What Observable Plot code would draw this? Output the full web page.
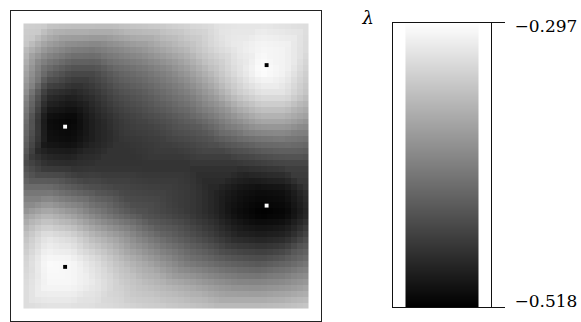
<!DOCTYPE html>
<html>
<head>
<meta charset="utf-8">
<script src="https://cdn.jsdelivr.net/npm/d3@7"></script>
<script src="https://cdn.jsdelivr.net/npm/@observablehq/plot@0.6"></script>
<style>
  body { margin: 0; background: white; }
  #wrap { position: relative; width: 581px; height: 322px; overflow: hidden; }
  #wrap > svg { position: absolute; top: 0; }
</style>
</head>
<body>
<div id="wrap"></div>
<script>
// grid sample positions (fraction of the domain, left→right / top→bottom)
const gridPos = [0, 0.083, 0.167, 0.25, 0.333, 0.417, 0.5, 0.583, 0.667, 0.75, 0.833, 0.917, 1];

// λ values, one row per gridPos (top row first)
const lambdaRow0  = [-0.337,-0.341,-0.346,-0.346,-0.346,-0.341,-0.337,-0.330,-0.324,-0.319,-0.319,-0.324,-0.328];
const lambdaRow1  = [-0.346,-0.385,-0.403,-0.408,-0.396,-0.385,-0.368,-0.352,-0.330,-0.315,-0.304,-0.308,-0.330];
const lambdaRow2  = [-0.368,-0.430,-0.452,-0.452,-0.430,-0.419,-0.403,-0.381,-0.352,-0.324,-0.297,-0.308,-0.341];
const lambdaRow3  = [-0.390,-0.478,-0.489,-0.474,-0.452,-0.441,-0.425,-0.408,-0.381,-0.346,-0.324,-0.324,-0.352];
const lambdaRow4  = [-0.412,-0.507,-0.514,-0.489,-0.469,-0.458,-0.447,-0.434,-0.414,-0.390,-0.368,-0.368,-0.385];
const lambdaRow5  = [-0.425,-0.503,-0.507,-0.489,-0.474,-0.469,-0.463,-0.456,-0.447,-0.434,-0.423,-0.419,-0.425];
const lambdaRow6  = [-0.447,-0.474,-0.478,-0.474,-0.474,-0.474,-0.474,-0.474,-0.474,-0.474,-0.469,-0.463,-0.463];
const lambdaRow7  = [-0.419,-0.419,-0.434,-0.447,-0.456,-0.461,-0.463,-0.469,-0.485,-0.500,-0.507,-0.503,-0.474];
const lambdaRow8  = [-0.385,-0.363,-0.381,-0.408,-0.430,-0.447,-0.458,-0.469,-0.485,-0.507,-0.518,-0.514,-0.485];
const lambdaRow9  = [-0.352,-0.319,-0.330,-0.359,-0.381,-0.408,-0.430,-0.447,-0.465,-0.485,-0.491,-0.485,-0.452];
const lambdaRow10 = [-0.337,-0.301,-0.304,-0.326,-0.352,-0.374,-0.396,-0.417,-0.430,-0.441,-0.447,-0.436,-0.419];
const lambdaRow11 = [-0.330,-0.304,-0.304,-0.317,-0.337,-0.352,-0.363,-0.374,-0.387,-0.396,-0.398,-0.392,-0.381];
const lambdaRow12 = [-0.330,-0.324,-0.324,-0.326,-0.330,-0.337,-0.341,-0.346,-0.352,-0.352,-0.352,-0.348,-0.341];

// critical points
const markerX = [0.853, 0.146, 0.853, 0.146];
const markerY = [0.146, 0.362, 0.639, 0.854];
const markerKind = ["max", "min", "min", "max"];

// colour bar
const lambdaDomain = [-0.518, -0.297];
const colorTicks = [-0.297, -0.518];

const rows = [lambdaRow0, lambdaRow1, lambdaRow2, lambdaRow3, lambdaRow4, lambdaRow5, lambdaRow6,
              lambdaRow7, lambdaRow8, lambdaRow9, lambdaRow10, lambdaRow11, lambdaRow12];
const points = rows.flatMap((row, j) => row.map((v, i) => ({x: gridPos[i], y: gridPos[j], v})));
const markers = markerX.map((x, i) => ({x, y: markerY[i], kind: markerKind[i]}));

const colorOpts = {type: "linear", domain: lambdaDomain, range: ["black", "white"], interpolate: "rgb"};

const heat = Plot.plot({
  width: 332, height: 322,
  marginLeft: 10, marginRight: 11, marginTop: 10, marginBottom: 1,
  x: {domain: [0, 1], inset: 13, axis: null},
  y: {domain: [0, 1], reverse: true, inset: 13, axis: null},
  color: colorOpts,
  marks: [
    Plot.raster(points, {x: "x", y: "y", fill: "v", interpolate: "barycentric",
      x1: 0, x2: 1, y1: 0, y2: 1, width: 48, height: 48, imageRendering: "pixelated"}),
    Plot.dot(markers.filter(d => d.kind === "max"), {x: "x", y: "y", symbol: "square", r: 2.2, fill: "black"}),
    Plot.dot(markers.filter(d => d.kind === "min"), {x: "x", y: "y", symbol: "square", r: 2.2, fill: "white"}),
    Plot.frame({stroke: "#222"})
  ]
});
heat.style.left = "0px";

const fmt = d3.format(".3f");
const bar = Plot.plot({
  width: 241, height: 322,
  marginLeft: 52, marginRight: 90, marginTop: 22, marginBottom: 15,
  x: {domain: [0, 1], inset: 13, axis: null},
  y: {domain: lambdaDomain, axis: null},
  color: colorOpts,
  style: {fontFamily: "DejaVu Serif", fontSize: "17px", background: "transparent", overflow: "visible"},
  marks: [
    Plot.raster({fill: (x, y) => y, x1: 0, x2: 1, y1: lambdaDomain[0], y2: lambdaDomain[1], width: 2, height: 285}),
    Plot.frame({stroke: "#111"}),
    Plot.axisY(colorTicks, {anchor: "right", tickSize: 13, tickFormat: () => "", stroke: "#111"}),
    Plot.text([colorTicks[0]], {y: d => d, text: fmt, frameAnchor: "right", dx: 23, dy: -3,
      textAnchor: "start", lineAnchor: "top", fontSize: 17}),
    Plot.text([colorTicks[1]], {y: d => d, text: fmt, frameAnchor: "right", dx: 23, dy: -1,
      textAnchor: "start", lineAnchor: "bottom", fontSize: 17}),
    Plot.text(["λ"], {frameAnchor: "top-left", dx: -30, dy: 1, textAnchor: "start", lineAnchor: "bottom",
      fontStyle: "italic", fontSize: 18})
  ]
});
bar.style.left = "340px";

document.getElementById("wrap").append(heat, bar);
</script>
</body>
</html>
